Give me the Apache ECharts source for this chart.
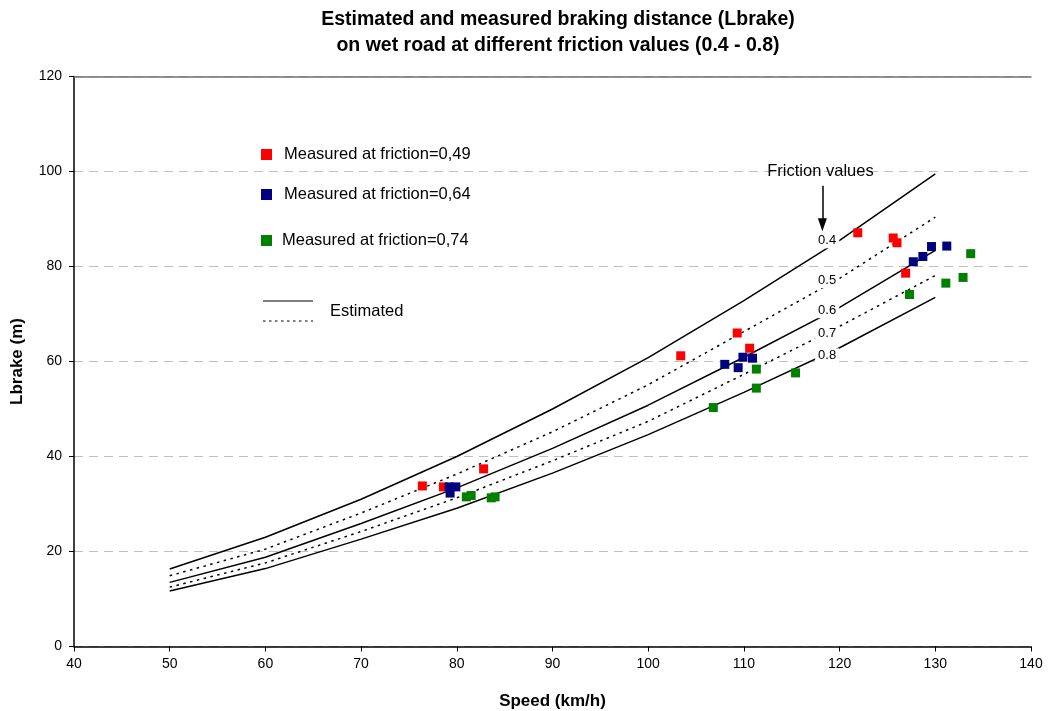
<!DOCTYPE html>
<html>
<head>
<meta charset="utf-8">
<script src="https://cdn.jsdelivr.net/npm/echarts@6/dist/echarts.min.js"></script>
<style>html,body{margin:0;padding:0;background:#fff}#chart{width:1050px;height:711px}</style>
</head>
<body>
<div id="chart"></div>
<script>
// ---- data ----
var speeds = [50, 60, 70, 80, 90, 100, 110, 120, 130];
var est04 = [16.3, 23.0, 31.0, 40.0, 50.0, 60.8, 72.8, 85.5, 99.5];
var est05 = [14.9, 20.5, 28.1, 36.3, 45.2, 55.1, 66.3, 77.5, 90.4];
var est06 = [13.5, 18.8, 25.9, 33.4, 41.7, 50.8, 60.9, 71.4, 83.4];
var est07 = [12.5, 17.6, 24.2, 31.3, 39.1, 47.4, 57.3, 67.4, 78.1];
var est08 = [11.7, 16.4, 22.6, 29.1, 36.5, 44.6, 53.5, 62.9, 73.5];

var meas049 = [[76.4, 33.8], [78.6, 33.6], [82.8, 37.4], [103.4, 61.2], [109.3, 66.0], [110.6, 62.8], [121.9, 87.1], [125.6, 86.0], [126.0, 85.0], [126.9, 78.6]];
var meas064 = [[79.2, 33.6], [79.3, 32.3], [79.9, 33.6], [108.0, 59.4], [109.4, 58.7], [109.9, 60.9], [110.9, 60.7], [127.7, 81.0], [128.7, 82.1], [129.6, 84.2], [131.2, 84.3]];
var meas074 = [[81.0, 31.5], [81.5, 31.8], [83.6, 31.3], [84.0, 31.5], [106.8, 50.3], [111.3, 54.4], [111.3, 58.4], [115.4, 57.6], [127.3, 74.1], [131.1, 76.5], [132.9, 77.7], [133.7, 82.7]];

var frictionLabels = ['0.4', '0.5', '0.6', '0.7', '0.8'];
var frictionLabelPos = [[118.7, 85.4], [118.7, 77.0], [118.7, 70.7], [118.7, 65.9], [118.7, 61.2]];
var arrowFrom = [118.2, 97.0];
var arrowTo = [118.2, 88.8];
var arrowTitlePos = [118.0, 100.1];

var xTicks = {min: 40, max: 140, interval: 10};
var yTicks = {min: 0, max: 120, interval: 20};

// ---- chart ----
var FONT = '"Liberation Sans", Arial, sans-serif';
function pairs(ys) { return speeds.map(function (s, i) { return [s, ys[i]]; }); }
function estSeries(name, ys, dotted) {
  return {
    name: name, type: 'line', data: pairs(ys), symbol: 'none', silent: true, z: 2,
    lineStyle: {color: '#000', width: 1.5, type: dotted ? [2.5, 4.5] : 'solid'}
  };
}
function measSeries(name, pts, color) {
  return {
    name: name, type: 'scatter', data: pts, symbol: 'rect', symbolSize: 9, z: 4,
    itemStyle: {color: color, opacity: 1}
  };
}
var legendText = {fontFamily: FONT, fontSize: 16.5, color: '#000', padding: [0, 0, 0, 7]};

var chart = echarts.init(document.getElementById('chart'), null, {renderer: 'canvas'});
chart.setOption({
  animation: false,
  backgroundColor: '#fff',
  textStyle: {fontFamily: FONT},
  title: {
    text: 'Estimated and measured braking distance (Lbrake)\non wet road at different friction values (0.4 - 0.8)',
    left: 553, top: 2, textAlign: 'center',
    textStyle: {fontFamily: FONT, fontSize: 19.5, fontWeight: 'bold', color: '#000', lineHeight: 26}
  },
  grid: {left: 74, right: 19, top: 76.5, bottom: 64.5, containLabel: false, outerBoundsMode: 'none'},
  legend: [
    {data: ['Measured at friction=0,49'], left: 261, top: 146, padding: 0, icon: 'rect', itemWidth: 11, itemHeight: 11,
      textStyle: legendText, selectedMode: false},
    {data: ['Measured at friction=0,64'], left: 261, top: 186, padding: 0, icon: 'rect', itemWidth: 11, itemHeight: 11,
      textStyle: legendText, selectedMode: false},
    {data: ['Measured at friction=0,74'], left: 261, top: 232, padding: 0, icon: 'rect', itemWidth: 11, itemHeight: 11,
      textStyle: {fontFamily: FONT, fontSize: 16.5, color: '#000', padding: [0, 0, 0, 5]}, selectedMode: false}
  ],
  graphic: [
    {type: 'line', shape: {x1: 263, y1: 301, x2: 313, y2: 301}, style: {stroke: '#000', lineWidth: 1.2}},
    {type: 'line', shape: {x1: 263, y1: 321, x2: 313, y2: 321}, style: {stroke: '#000', lineWidth: 1.2, lineDash: [2.5, 3.5]}},
    {type: 'text', left: 330, top: 303, style: {text: 'Estimated', font: '16.5px ' + FONT, fill: '#000'}}
  ],
  xAxis: [
    {
      type: 'value', min: xTicks.min, max: xTicks.max, interval: xTicks.interval,
      name: 'Speed (km/h)', nameLocation: 'middle', nameGap: 46,
      nameTextStyle: {fontFamily: FONT, fontSize: 17, fontWeight: 'bold', color: '#000'},
      axisLine: {show: true, onZero: false, lineStyle: {color: '#000', width: 1.5}},
      axisTick: {show: true, inside: false, length: 5, lineStyle: {color: '#000', width: 1}},
      axisLabel: {fontFamily: FONT, fontSize: 14, color: '#000', margin: 11},
      splitLine: {show: false}
    },
    {
      type: 'value', position: 'top', min: xTicks.min, max: xTicks.max, interval: xTicks.interval,
      axisLine: {show: true, onZero: false, lineStyle: {color: '#6f6f6f', width: 1.5}},
      axisTick: {show: false}, axisLabel: {show: false}, splitLine: {show: false}
    }
  ],
  yAxis: {
    type: 'value', min: yTicks.min, max: yTicks.max, interval: yTicks.interval,
    name: 'Lbrake (m)', nameLocation: 'middle', nameGap: 48, nameRotate: 90,
    nameTextStyle: {fontFamily: FONT, fontSize: 17, fontWeight: 'bold', color: '#000'},
    axisLine: {show: true, lineStyle: {color: '#000', width: 1.5}},
    axisTick: {show: true, inside: false, length: 5, lineStyle: {color: '#000', width: 1}},
    axisLabel: {fontFamily: FONT, fontSize: 14, color: '#000', margin: 12},
    splitLine: {show: true, lineStyle: {color: '#c0c0c0', width: 1.2, type: [9, 6]}}
  },
  series: [
    estSeries('0.4', est04, false),
    estSeries('0.5', est05, true),
    estSeries('0.6', est06, false),
    estSeries('0.7', est07, true),
    estSeries('0.8', est08, false),
    measSeries('Measured at friction=0,49', meas049, '#ff0000'),
    measSeries('Measured at friction=0,64', meas064, '#000080'),
    measSeries('Measured at friction=0,74', meas074, '#008000'),
    {
      name: 'frictionLabels', type: 'scatter', silent: true, z: 3,
      data: frictionLabelPos, symbol: 'rect', symbolSize: 1, itemStyle: {color: 'rgba(255,255,255,0)', opacity: 1},
      label: {
        show: true, position: 'inside', formatter: function (p) { return frictionLabels[p.dataIndex]; },
        fontFamily: FONT, fontSize: 13, color: '#000', opacity: 1, backgroundColor: '#fff', padding: [1, 3]
      }
    },
    {
      name: 'arrowTitle', type: 'scatter', silent: true, z: 3,
      data: [arrowTitlePos], symbol: 'rect', symbolSize: 1, itemStyle: {color: 'rgba(255,255,255,0)', opacity: 1},
      label: {show: true, position: 'inside', formatter: 'Friction values', fontFamily: FONT, fontSize: 16.5, color: '#000', opacity: 1},
      markLine: {
        silent: true, symbol: ['none', 'triangle'], symbolSize: [9, 13], animation: false,
        label: {show: false},
        lineStyle: {color: '#000', width: 1.5, type: 'solid', opacity: 1},
        data: [[{coord: arrowFrom}, {coord: arrowTo}]]
      }
    }
  ]
});
</script>
</body>
</html>
